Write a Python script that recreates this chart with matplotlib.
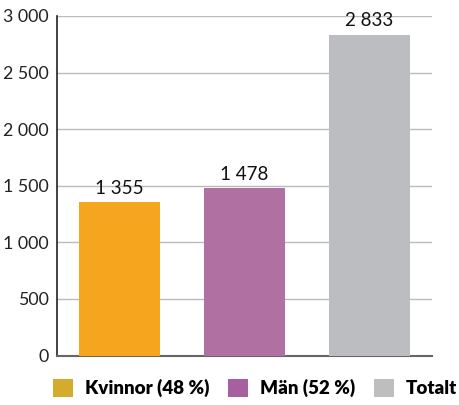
import matplotlib.pyplot as plt
from matplotlib.patches import Patch

categories = ["Kvinnor (48 %)", "Män (52 %)", "Totalt"]
values = [1355, 1478, 2833]
bar_colors = ["#F6A51F", "#B070A2", "#BCBDC1"]
legend_colors = ["#D4AB2D", "#A75FA0", "#BEBEBE"]
y_ticks = [0, 500, 1000, 1500, 2000, 2500, 3000]


def fmt(v):
    return f"{v:,}".replace(",", " ")


plt.rcParams["font.family"] = ["Lato", "DejaVu Sans"]

fig = plt.figure(figsize=(4.59, 4.05), dpi=100)
ax = fig.add_axes([57 / 459, 1 - 355.5 / 405, 375 / 459, 339.5 / 405])

x = range(len(values))
bars = ax.bar(x, values, width=0.65, color=bar_colors, zorder=3)

for b, v in zip(bars, values):
    ax.annotate(fmt(v), (b.get_x() + b.get_width() / 2, v),
                xytext=(0, 4), textcoords="offset points",
                ha="center", va="bottom", fontsize=13.5, color="#111111", zorder=4)

ax.set_xlim(-0.5, len(values) - 0.5)
ax.set_ylim(0, 3000)
ax.set_yticks(y_ticks)
ax.set_yticklabels([fmt(t) for t in y_ticks])
ax.set_xticks([])
ax.yaxis.grid(True, color="#BBBBBB", linewidth=1, zorder=0)
ax.tick_params(axis="y", length=0, pad=6, labelsize=12.8, labelcolor="#222222")

for s in ["top", "right"]:
    ax.spines[s].set_visible(False)
ax.spines["left"].set_color("#222222")
ax.spines["left"].set_linewidth(1.2)
ax.spines["bottom"].set_color("#666666")
ax.spines["bottom"].set_linewidth(1.5)

handles = [Patch(facecolor=c, edgecolor="none") for c in legend_colors]
fig.legend(handles, categories, loc="center", bbox_to_anchor=(0.555, 1 - 388 / 405),
           ncol=3, frameon=False, handlelength=1.1, handleheight=1.1,
           handletextpad=0.6, columnspacing=1.0,
           prop={"weight": "heavy", "size": 13.5})

fig.savefig("out.png", dpi=100)
